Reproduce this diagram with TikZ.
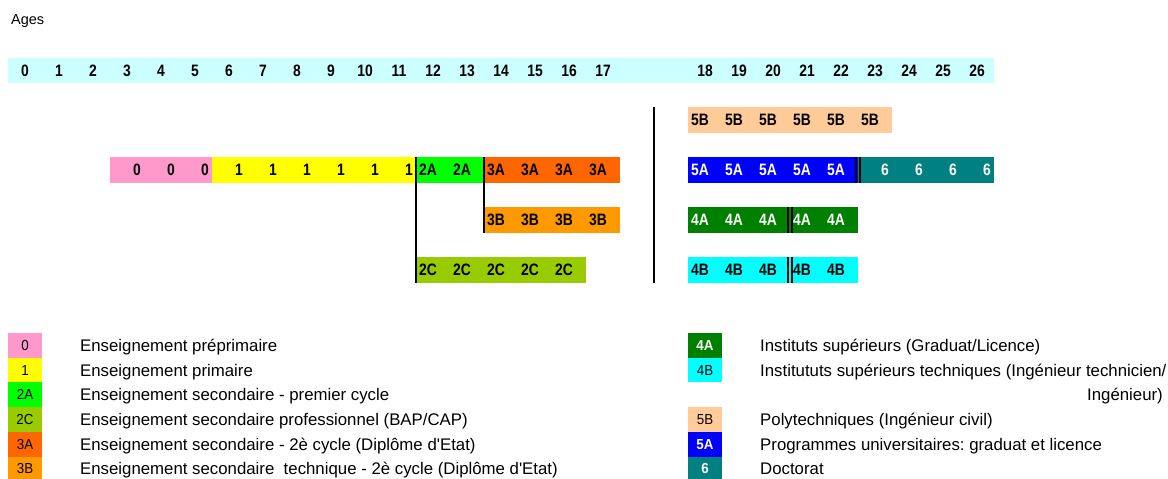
\documentclass[tikz,border=0pt]{standalone}
\usepackage{fontspec}
\setmainfont{Liberation Sans}
\newfontfamily\cellfont[FakeStretch=0.84]{Liberation Sans}
\newfontfamily\swfont[FakeStretch=0.92]{Liberation Sans}
\frenchspacing
\definecolor{agec}{HTML}{CCFFFF}
\definecolor{c0}{HTML}{FF99CC}
\definecolor{c1}{HTML}{FFFF00}
\definecolor{c2A}{HTML}{00FF00}
\definecolor{c2C}{HTML}{99CC00}
\definecolor{c3A}{HTML}{FF6600}
\definecolor{c3B}{HTML}{FF9900}
\definecolor{c4A}{HTML}{008000}
\definecolor{c4B}{HTML}{00FFFF}
\definecolor{c5B}{HTML}{FFCC99}
\definecolor{c5A}{HTML}{0000FF}
\definecolor{c6}{HTML}{008080}
\tikzset{
  bar/.style={rectangle,draw=none,inner sep=0pt,outer sep=0pt,minimum height=26pt,anchor=north west},
  celltxt/.style={inner sep=0pt,font=\cellfont\bfseries\fontsize{16.5}{16.5}\selectfont},
  agetxt/.style={inner sep=0pt,anchor=base,font=\cellfont\bfseries\fontsize{16.5}{16.5}\selectfont},
  vline/.style={line width=2pt,black},
  dline/.style={line width=1.3pt,black},
  swatch/.style={rectangle,draw=none,inner sep=0pt,outer sep=0pt,minimum width=34pt,minimum height=24.7pt,anchor=north west,font=\swfont\fontsize{14.5}{14.5}\selectfont},
  legtxt/.style={inner sep=0pt,font=\fontsize{16.8}{16.8}\selectfont}
}
% #1 name, #2 colour, #3 first col, #4 last col, #5 top, #6 label, #7 l/r, #8 text colour
\newcommand\cellrow[8]{%
  \pgfmathsetmacro\bxa{8+34*#3}%
  \pgfmathsetmacro\bwid{34*(#4-#3+1)}%
  \node[bar,fill=#2,minimum width=\bwid pt] (#1) at (\bxa,#5) {};
  \foreach \c in {#3,...,#4}{%
    \if#7l
      \node[celltxt,anchor=base west,text=#8] (#1-\c) at ({8+34*\c+3},{#5+13+5.8}) {#6};
    \else
      \node[celltxt,anchor=base east,text=#8] (#1-\c) at ({8+34*\c+31},{#5+13+5.8}) {#6};
    \fi
  }%
}
\begin{document}
\begin{tikzpicture}[x=1pt,y=-1pt]
\useasboundingbox (0,0) rectangle (1168,479);
\node[inner sep=0pt,anchor=base west,font=\fontsize{14.5}{14.5}\selectfont] (ages) at (11,24) {Ages};
% age bar
\node[bar,fill=agec,minimum width=986pt,minimum height=25pt] (agebar) at (8,58) {};
\foreach \a/\c in {0/0,1/1,2/2,3/3,4/4,5/5,6/6,7/7,8/8,9/9,10/10,11/11,12/12,13/13,14/14,15/15,16/16,17/17,18/20,19/21,20/22,21/23,22/24,23/25,24/26,25/27,26/28}
  \node[agetxt] (age\a) at ({25+34*\c},76.3) {\a};
% bars
\cellrow{r0}{c0}{3}{5}{157}{0}{r}{black}
\cellrow{r1}{c1}{6}{11}{157}{1}{r}{black}
\cellrow{r2A}{c2A}{12}{13}{157}{2A}{l}{black}
\cellrow{r3A}{c3A}{14}{17}{157}{3A}{l}{black}
\cellrow{r3B}{c3B}{14}{17}{207}{3B}{l}{black}
\cellrow{r2C}{c2C}{12}{16}{257}{2C}{l}{black}
\cellrow{r5B}{c5B}{20}{25}{107}{5B}{l}{black}
\cellrow{r5A}{c5A}{20}{24}{157}{5A}{l}{white}
\cellrow{r6}{c6}{25}{28}{157}{6}{r}{white}
\cellrow{r4A}{c4A}{20}{24}{207}{4A}{l}{white}
\cellrow{r4B}{c4B}{20}{24}{257}{4B}{l}{black}
% separators
\draw[vline] (r2A.north west) -- (r2C.south west);
\draw[vline] (r3A.north west) -- (r3B.south west);
\coordinate (septop) at (654,107);
\coordinate (sepbot) at (654,283);
\draw[vline] (septop) -- (sepbot);
\draw[dline] ([xshift=-2pt]r6.north west) -- ([xshift=-2pt]r6.south west);
\draw[dline] ([xshift=2pt]r6.north west) -- ([xshift=2pt]r6.south west);
\coordinate (d4at) at (790,207);
\coordinate (d4ab) at (790,233);
\coordinate (d4bt) at (790,257);
\coordinate (d4bb) at (790,283);
\draw[dline] ([xshift=-2pt]d4at) -- ([xshift=-2pt]d4ab);
\draw[dline] ([xshift=2pt]d4at) -- ([xshift=2pt]d4ab);
\draw[dline] ([xshift=-2pt]d4bt) -- ([xshift=-2pt]d4bb);
\draw[dline] ([xshift=2pt]d4bt) -- ([xshift=2pt]d4bb);
% legend left
\foreach \i/\col/\lab/\txt in {0/c0/0/{Enseignement préprimaire},
  1/c1/1/{Enseignement primaire},
  2/c2A/2A/{Enseignement secondaire - premier cycle},
  3/c2C/2C/{Enseignement secondaire professionnel (BAP/CAP)},
  4/c3A/3A/{Enseignement secondaire - 2è cycle (Diplôme d\textquotesingle Etat)},
  5/c3B/3B/{Enseignement secondaire\ \ technique - 2è cycle (Diplôme d\textquotesingle Etat)}}{
  \node[swatch,fill=\col] (ls\i) at (8,{333+24.7*\i}) {\lab};
  \node[legtxt,anchor=base west] (lt\i) at (80,{333+24.7*\i+12.35+6}) {\txt};
}
% legend right
\foreach \i/\col/\lab/\tc/\txt in {0/c4A/\bfseries 4A/white/{Instituts supérieurs (Graduat/Licence)},
  1/c4B/4B/black/{Institututs supérieurs techniques (Ingénieur technicien/},
  3/c5B/5B/black/{Polytechniques (Ingénieur civil)},
  4/c5A/\bfseries 5A/white/{Programmes universitaires: graduat et licence},
  5/c6/\bfseries 6/white/{Doctorat}}{
  \node[swatch,fill=\col,text=\tc] (rs\i) at (688,{333+24.7*\i}) {\lab};
  \node[legtxt,anchor=base west] (rt\i) at (760,{333+24.7*\i+12.35+6}) {\txt};
}
\node[legtxt,anchor=base east] (rt2) at (1163,{333+24.7*2+12.35+6}) {Ingénieur)};
\end{tikzpicture}
\end{document}
